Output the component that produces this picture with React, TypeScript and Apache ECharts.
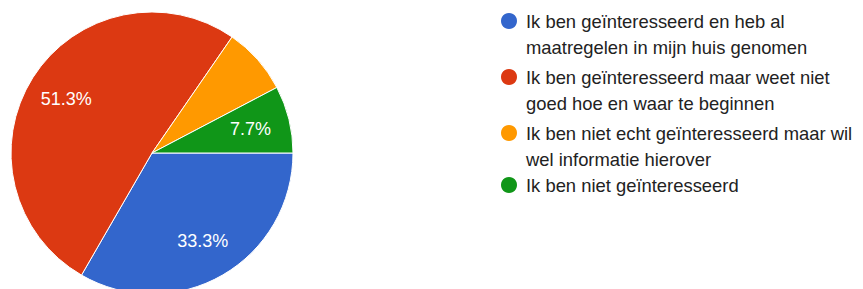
import React, { useEffect, useRef } from "react";
import * as echarts from "echarts";

const categories = [
  "Ik ben geïnteresseerd en heb al\nmaatregelen in mijn huis genomen",
  "Ik ben geïnteresseerd maar weet niet\ngoed hoe en waar te beginnen",
  "Ik ben niet echt geïnteresseerd maar wil\nwel informatie hierover",
  "Ik ben niet geïnteresseerd",
];
const values = [13, 20, 3, 3];
const colors = ["#3366cc", "#dc3912", "#ff9900", "#109618"];
const showLabel = [true, true, false, true];
const legendCenters = [13, 69, 125, 177];

export default function App() {
  const ref = useRef<HTMLDivElement>(null);
  useEffect(() => {
    if (!ref.current) return;
    const chart = echarts.init(ref.current, undefined, { renderer: "svg" });
    const total = values.reduce((a, b) => a + b, 0);
    const font = "'Liberation Sans', Arial, sans-serif";
    const LH = 26;
    const legends = categories.map((name, i) => {
      const lines = name.split("\n").length;
      const blank = lines - 1;
      const totalLines = lines + blank;
      return {
        show: true,
        orient: "vertical",
        left: 491,
        top: legendCenters[i] - (totalLines * LH) / 2,
        padding: 0,
        itemWidth: 18,
        itemHeight: 18,
        icon: "circle",
        selectedMode: false,
        data: [name],
        formatter: (n: string) => "\n".repeat(blank) + n,
        textStyle: {
          fontFamily: font,
          fontSize: 18.4,
          color: "#222222",
          lineHeight: LH,
          padding: [0, 0, 0, 3],
        },
      };
    });
    chart.setOption({
      animation: false,
      color: colors,
      legend: legends,
      series: [
        {
          type: "pie",
          center: [144, 145],
          radius: [0, 141],
          startAngle: 0,
          clockwise: true,
          silent: true,
          label: { show: false },
          labelLine: { show: false },
          itemStyle: { borderColor: "#ffffff", borderWidth: 1 },
          data: categories.map((n, i) => ({
            name: n,
            value: values[i],
            itemStyle: { color: colors[i] },
          })),
        },
        {
          type: "pie",
          center: [144, 145],
          radius: [56, 141],
          startAngle: 0,
          clockwise: true,
          silent: true,
          legendHoverLink: false,
          itemStyle: { color: "rgba(0,0,0,0)", borderWidth: 0 },
          label: {
            show: true,
            position: "inside",
            fontFamily: font,
            fontSize: 18,
            color: "#ffffff",
            formatter: (p: any) =>
              ((values[p.dataIndex] / total) * 100).toFixed(1) + "%",
          },
          labelLine: { show: false },
          data: categories.map((n, i) => ({
            name: n + " ",
            value: values[i],
            label: { show: showLabel[i] },
          })),
        },
      ],
    });
    return () => chart.dispose();
  }, []);
  return <div ref={ref} style={{ width: 863, height: 289 }} />;
}
